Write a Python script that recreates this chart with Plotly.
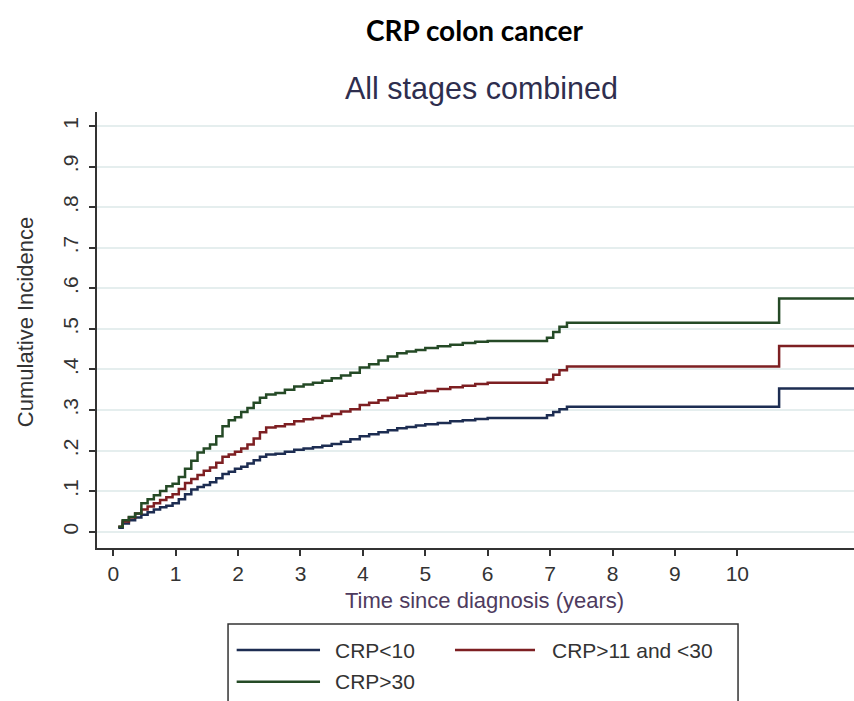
import plotly.graph_objects as go

# ---- data ----
time_years = [0.08, 0.15, 0.25, 0.35, 0.45, 0.55, 0.65, 0.75, 0.85, 0.95,
              1.05, 1.15, 1.25, 1.35, 1.45, 1.55, 1.65, 1.75, 1.85, 1.95,
              2.05, 2.15, 2.25, 2.35, 2.45, 2.6, 2.75, 2.9, 3.05, 3.2,
              3.35, 3.5, 3.65, 3.8, 3.95, 4.1, 4.25, 4.4, 4.55, 4.7,
              4.85, 5.0, 5.2, 5.4, 5.6, 5.8, 6.0, 6.95, 7.05, 7.15,
              7.27, 10.67, 12.0]

crp_lt10 = [0.010, 0.020, 0.028, 0.035, 0.042, 0.048, 0.055, 0.060, 0.064, 0.070,
            0.080, 0.092, 0.104, 0.110, 0.115, 0.122, 0.132, 0.142, 0.148, 0.155,
            0.160, 0.168, 0.176, 0.185, 0.190, 0.192, 0.197, 0.202, 0.205, 0.208,
            0.212, 0.216, 0.222, 0.228, 0.235, 0.240, 0.245, 0.250, 0.255, 0.258,
            0.262, 0.265, 0.268, 0.272, 0.275, 0.278, 0.280, 0.287, 0.295, 0.302,
            0.308, 0.353, 0.353]

crp_11_30 = [0.012, 0.025, 0.035, 0.045, 0.055, 0.062, 0.070, 0.078, 0.085, 0.092,
             0.105, 0.120, 0.130, 0.140, 0.150, 0.158, 0.170, 0.185, 0.190, 0.197,
             0.205, 0.215, 0.230, 0.245, 0.257, 0.260, 0.265, 0.272, 0.277, 0.280,
             0.285, 0.290, 0.296, 0.302, 0.312, 0.318, 0.324, 0.330, 0.335, 0.340,
             0.343, 0.347, 0.352, 0.356, 0.360, 0.364, 0.367, 0.375, 0.387, 0.398,
             0.407, 0.458, 0.458]

crp_gt30 = [0.012, 0.028, 0.036, 0.045, 0.070, 0.080, 0.090, 0.100, 0.112, 0.118,
            0.135, 0.155, 0.175, 0.195, 0.205, 0.215, 0.235, 0.260, 0.275, 0.282,
            0.295, 0.305, 0.318, 0.330, 0.338, 0.342, 0.350, 0.358, 0.363, 0.367,
            0.372, 0.378, 0.385, 0.392, 0.405, 0.413, 0.422, 0.432, 0.440, 0.444,
            0.448, 0.453, 0.457, 0.461, 0.465, 0.468, 0.470, 0.478, 0.492, 0.505,
            0.515, 0.575, 0.575]

series_names = ["CRP<10", "CRP>11 and <30", "CRP>30"]
series_values = [crp_lt10, crp_11_30, crp_gt30]
series_colors = ["#1d2d52", "#7d1f22", "#254a26"]

x_tickvals = [0, 1, 2, 3, 4, 5, 6, 7, 8, 9, 10]
y_tickvals = [0, 0.1, 0.2, 0.3, 0.4, 0.5, 0.6, 0.7, 0.8, 0.9, 1.0]
y_ticktext = ["0", ".1", ".2", ".3", ".4", ".5", ".6", ".7", ".8", ".9", "1"]

FONT = "Arial, Liberation Sans, sans-serif"
AX = "#333333"

fig = go.Figure()
for name, vals, col in zip(series_names, series_values, series_colors):
    fig.add_trace(go.Scatter(x=time_years, y=vals, name=name, mode="lines",
                             line=dict(color=col, width=2.5, shape="hv"),
                             showlegend=False))

fig.update_layout(
    width=854, height=701,
    margin=dict(l=97, r=0, t=112, b=153),
    paper_bgcolor="white", plot_bgcolor="white",
    font=dict(family=FONT, size=21, color=AX),
    showlegend=False,
)
fig.update_xaxes(range=[-0.261, 11.87], tickvals=x_tickvals,
                 showgrid=False, zeroline=False,
                 showline=True, linecolor=AX, linewidth=2,
                 ticks="outside", ticklen=6, tickwidth=2, tickcolor=AX,
                 tickfont=dict(size=21, color=AX))
fig.update_yaxes(range=[-0.0402, 1.0345], tickvals=y_tickvals, ticktext=y_ticktext,
                 showgrid=True, gridcolor="#e5eeee", gridwidth=1.5, zeroline=False,
                 showline=True, linecolor=AX, linewidth=2,
                 ticks="outside", ticklen=6, tickwidth=2, tickcolor=AX,
                 tickangle=-90, ticklabelstandoff=3, tickfont=dict(size=21, color=AX))

annotations = [
    dict(text="<b>CRP colon cancer</b>", x=0.4993, y=1.188, xref="paper", yref="paper",
         xanchor="center", yanchor="middle",
         showarrow=False, font=dict(family="Lato, Open Sans, sans-serif", size=28, color="black")),
    dict(text="All stages combined", x=0.508, y=1.055, xref="paper", yref="paper",
         xanchor="center", yanchor="middle",
         showarrow=False, font=dict(family=FONT, size=30.5, color="#2e2e4e")),
    dict(text="Time since diagnosis (years)", x=0.512, y=-0.1197, xref="paper", yref="paper",
         xanchor="center", yanchor="middle",
         showarrow=False, font=dict(family=FONT, size=22, color="#4e3b5e")),
    dict(text="Cumulative Incidence", x=-0.0951, y=0.518, xref="paper", yref="paper",
         xanchor="center", yanchor="middle",
         textangle=-90, showarrow=False, font=dict(family=FONT, size=22, color=AX)),
]

# custom legend box (like the Stata legend)
shapes = [dict(type="rect", xref="paper", yref="paper", x0=0.1731, x1=0.8468,
               y0=-0.1743, y1=-0.40, line=dict(color=AX, width=1.5), fillcolor="rgba(0,0,0,0)")]
leg_rows = [(-0.234, 0.1845, 0.2946, 0.3121), (-0.234, 0.4729, 0.5786, 0.5984),
            (-0.3067, 0.1845, 0.2946, 0.3121)]
for (yy, lx0, lx1, tx), name, col in zip(leg_rows, series_names, series_colors):
    shapes.append(dict(type="line", xref="paper", yref="paper", x0=lx0, x1=lx1, y0=yy, y1=yy,
                       line=dict(color=col, width=2.5)))
    annotations.append(dict(text=name, x=tx, y=yy, xref="paper", yref="paper",
                            xanchor="left", yanchor="middle", showarrow=False,
                            font=dict(family=FONT, size=21, color=AX)))

fig.update_layout(annotations=annotations, shapes=shapes)
fig.write_html("out.html")
